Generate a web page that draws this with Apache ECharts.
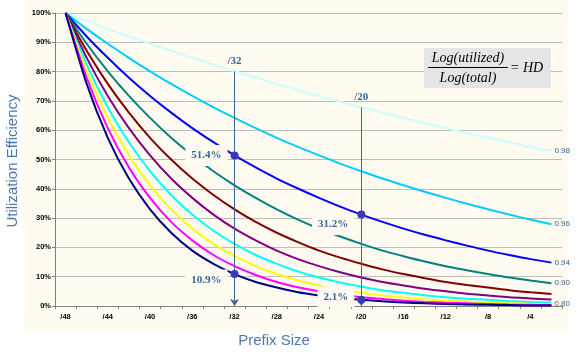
<!DOCTYPE html>
<html><head><meta charset="utf-8">
<script src="https://cdn.jsdelivr.net/npm/echarts@6/dist/echarts.min.js"></script>
<style>html,body{margin:0;padding:0;background:#fff}#c{width:577px;height:355px}</style>
</head><body><div id="c"></div><script>
// Categories (prefix sizes)
const categories = ['/48','/46','/44','/42','/40','/38','/36','/34','/32','/30','/28','/26','/24','/22','/20','/18','/16','/14','/12','/10','/8','/6','/4','/2'];
const yTicks = [0,10,20,30,40,50,60,70,80,90,100];

// Utilization efficiency (%) per HD ratio curve
const hd98 = [100,97.3,94.6,92.0,89.5,87.1,84.7,82.4,80.1,77.9,75.8,73.7,71.7,69.7,67.8,66.0,64.2,62.4,60.7,59.0,57.4,55.9,54.3,52.9];
const hd96 = [100,94.6,89.5,84.7,80.1,75.8,71.7,67.8,64.2,60.7,57.4,54.3,51.4,48.6,46.0,43.5,41.2,39.0,36.9,34.9,33.0,31.2,29.5,27.9];
const hd94 = [100,92.0,84.7,77.9,71.7,66.0,60.7,55.9,51.4,47.3,43.5,40.1,36.9,33.9,31.2,28.7,26.4,24.3,22.4,20.6,18.9,17.4,16.0,14.8];
const hd92 = [100,89.5,80.1,71.7,64.2,57.4,51.4,46.0,41.2,36.9,33.0,29.5,26.4,23.7,21.2,18.9,17.0,15.2,13.6,12.2,10.9,9.7,8.7,7.8];
const hd90 = [100,87.1,75.8,66.0,57.4,50.0,43.5,37.9,33.0,28.7,25.0,21.8,18.9,16.5,14.4,12.5,10.9,9.5,8.2,7.2,6.3,5.4,4.7,4.1];
const hd88 = [100,84.7,71.7,60.7,51.4,43.5,36.9,31.2,26.4,22.4,18.9,16.0,13.6,11.5,9.7,8.2,7.0,5.9,5.0,4.2,3.6,3.0,2.6,2.2];
const hd86 = [100,82.4,67.8,55.9,46.0,37.9,31.2,25.7,21.2,17.4,14.4,11.8,9.7,8.0,6.6,5.4,4.5,3.7,3.0,2.5,2.1,1.7,1.4,1.2];
const hd84 = [100,80.1,64.2,51.4,41.2,33.0,26.4,21.2,17.0,13.6,10.9,8.7,7.0,5.6,4.5,3.6,2.9,2.3,1.8,1.5,1.2,0.9,0.8,0.6];
const hd82 = [100,77.9,60.7,47.3,36.9,28.7,22.4,17.4,13.6,10.6,8.2,6.4,5.0,3.9,3.0,2.4,1.8,1.4,1.1,0.9,0.7,0.5,0.4,0.3];
const hd80 = [100,75.8,57.4,43.5,33.0,25.0,18.9,14.4,10.9,8.2,6.3,4.7,3.6,2.7,2.1,1.6,1.2,0.9,0.7,0.5,0.4,0.3,0.2,0.2];

const seriesNames = ['0.98','0.96','0.94','0.92','0.90','0.88','0.86','0.84','0.82','0.80'];
const seriesValues = [hd98,hd96,hd94,hd92,hd90,hd88,hd86,hd84,hd82,hd80];
const endLabels = ['0.98','0.96','0.94','0.90','','','','','','0.80'];
const colors = ['#ccffff','#00ccff','#0000ff','#008080','#800000','#800080','#00ffff','#ffff00','#ff00ff','#000080'];

// Annotations
const dropCats = ['/32','/20'];
const markerSeries = [hd94, hd80];

const CREAM = '#fffbf0';
const ANN = '#336699';

const series = seriesValues.map((vals, i) => ({
  name: seriesNames[i],
  type: 'line',
  data: vals,
  symbol: 'none',
  smooth: 0.25,
  lineStyle: { color: colors[i], width: 2 },
  itemStyle: { color: colors[i] },
  z: 2,
  endLabel: endLabels[i] ? {
    show: true, formatter: endLabels[i], color: ANN,
    fontSize: 8, fontFamily: 'Liberation Sans', distance: 3,
    offset: i === 9 ? [0, -2] : [0, 0]
  } : { show: false },
  animation: false
}));

const markerOffsets = [[0,0],[0,6],[0,10],[0,-3]];
const markPts = [];
let k = 0;
dropCats.forEach(c => {
  const idx = categories.indexOf(c);
  markerSeries.forEach(arr => {
    markPts.push({
      coord: [c, arr[idx]], value: arr[idx],
      label: { offset: markerOffsets[k] }
    });
    k++;
  });
});

series.push({
  name: 'ann', type: 'line', data: [], z: 5, animation: false,
  markLine: {
    silent: true, animation: false,
    symbol: ['none', 'arrow'], symbolSize: 7,
    lineStyle: { color: '#46648f', width: 1, type: 'solid' },
    label: {
      show: true, position: 'start', distance: 5,
      formatter: p => p.name, color: ANN,
      fontFamily: 'Liberation Serif', fontWeight: 'bold', fontSize: 11
    },
    data: dropCats.map(c => {
      const idx = categories.indexOf(c);
      return [{ coord: [c, hd98[idx]], name: c }, { coord: [c, 0], name: c }];
    })
  },
  markPoint: {
    silent: true, animation: false,
    symbol: 'circle', symbolSize: 8,
    itemStyle: { color: '#3a3ab4' },
    label: {
      show: true, position: 'left', distance: 3,
      formatter: p => p.value.toFixed(1) + '%',
      color: ANN, fontFamily: 'Liberation Serif', fontWeight: 'bold', fontSize: 11,
      backgroundColor: CREAM, padding: [5, 6]
    },
    data: markPts
  }
});

const chart = echarts.init(document.getElementById('c'));
chart.setOption({
  animation: false,
  backgroundColor: '#ffffff',
  grid: { left: 55, right: 15, top: 13, bottom: 49, containLabel: false },
  xAxis: {
    type: 'category', data: categories, boundaryGap: true,
    axisLine: { lineStyle: { color: '#808080', width: 1 } },
    axisTick: { show: true, interval: 0, length: 3, lineStyle: { color: '#808080' } },
    axisLabel: { interval: 1, color: '#000', fontSize: 7.5, fontWeight: 'bold', fontFamily: 'Liberation Sans', margin: 7 },
    splitLine: { show: false }
  },
  yAxis: {
    type: 'value', min: yTicks[0], max: yTicks[yTicks.length - 1], interval: 10,
    axisLine: { show: true, lineStyle: { color: '#808080', width: 1 } },
    axisTick: { show: true, length: 3, lineStyle: { color: '#808080' } },
    axisLabel: { formatter: '{value}%', color: '#000', fontSize: 7.5, fontWeight: 'bold', fontFamily: 'Liberation Sans', margin: 4 },
    splitLine: { show: true, lineStyle: { color: '#bdbdbd', width: 1 } }
  },
  graphic: [
    { type: 'rect', z: -100, silent: true, shape: { x: 24, y: 0, width: 544, height: 331 }, style: { fill: CREAM } },
    { type: 'text', x: 13, y: 161, rotation: Math.PI / 2, silent: true,
      style: { text: 'Utilization Efficiency', align: 'center', verticalAlign: 'middle', fill: '#4a78b0', font: '15px "Liberation Sans"' } },
    { type: 'text', x: 274, y: 341, silent: true,
      style: { text: 'Prefix Size', align: 'center', verticalAlign: 'middle', fill: '#4a78b0', font: '15px "Liberation Sans"' } },
    { type: 'rect', z: 10, silent: true, shape: { x: 424, y: 48, width: 127, height: 40 }, style: { fill: '#e5e5e5' } },
    { type: 'text', z: 11, x: 468, y: 58, silent: true,
      style: { text: 'Log(utilized)', align: 'center', verticalAlign: 'middle', fill: '#000', font: 'italic 14px "Liberation Serif"' } },
    { type: 'line', z: 11, silent: true, shape: { x1: 428, y1: 67.5, x2: 508, y2: 67.5 }, style: { stroke: '#000', lineWidth: 1 } },
    { type: 'text', z: 11, x: 468, y: 78.5, silent: true,
      style: { text: 'Log(total)', align: 'center', verticalAlign: 'middle', fill: '#000', font: 'italic 14px "Liberation Serif"' } },
    { type: 'text', z: 11, x: 510, y: 68, silent: true,
      style: { text: '= HD', align: 'left', verticalAlign: 'middle', fill: '#000', font: 'italic 14px "Liberation Serif"' } }
  ],
  series: series
});
</script></body></html>
